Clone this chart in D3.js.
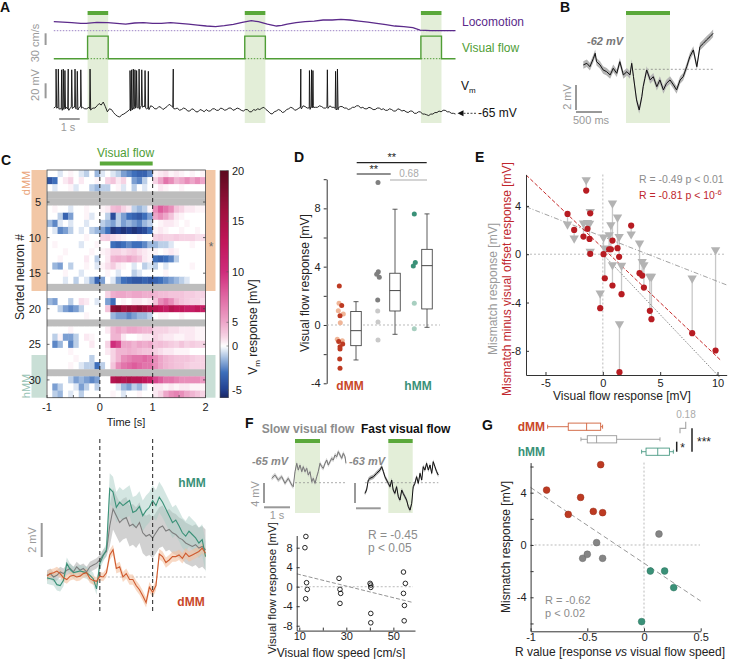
<!DOCTYPE html>
<html><head><meta charset="utf-8">
<script src="https://cdn.jsdelivr.net/npm/d3@7"></script>
<style>body{margin:0;background:#fff}svg{display:block}text{font-family:"Liberation Sans",Arial,sans-serif}</style>
</head><body><script>
// ---------------- DATA ----------------
// Panel A
const locoTime = [0,0.44,0.87,1.31,1.57,2.09,2.62,3.06,3.49,3.92,4.36,4.79,5.23,5.67,6.10,6.54,6.98,7.41,7.85,8.28,8.72,9.15,9.59,9.93,10.37,10.81,11.07,11.33,11.76,12.2,12.64,13.07,13.51,13.94,14.38,14.81,15.25,15.68,16.12,16.56,16.99,17.43,17.78,18.3,19.5];
const locoSpeed = [23.1,22.2,20.5,18.8,18.8,21.4,20.5,18.8,17.1,19.7,20.5,18.8,18.8,20.5,18.8,17.1,14.5,12,10.3,12.8,16.2,21.4,25.7,23.1,17.1,12,13.7,17.1,20.5,23.1,24.8,27.4,27.4,29.1,27.4,24.8,22.2,18.8,15.4,12,10.3,7.7,1.7,0,0];
const flowOnsets = [1.64, 9.27, 17.82];
const flowDuration = 1.0;
const flowSpeed = 58;
const vmStep = 0.1;
const vmBase = [-58,-56,-57,-59,-59,-57,-57,-59,-58,-56,
  -56,-59,-58,-56,-57,-59,-59,-57,-60,-58,
  -58,-55,-52,-54,-50,-56,-63,-59,-60,-64,
  -67,-69,-70,-67,-66,-64,-62,-60,-58,-57,
  -55,-58,-57,-54,-55,-59,-58,-55,-56,-59,
  -59,-56,-57,-60,-58,-56,-53,-55,-57,-59,
  -58,-61,-60,-58,-59,-62,-62,-59,-60,-63,
  -63,-60,-61,-63,-60,-62,-62,-59,-59,-61,
  -61,-58,-59,-61,-60,-58,-58,-61,-60,-58,
  -59,-61,-62,-60,-60,-63,-63,-60,-61,-59,
  -60,-58,-57,-60,-62,-65,-66,-63,-62,-60,
  -61,-64,-63,-60,-59,-57,-58,-61,-60,-58,
  -57,-55,-56,-58,-58,-56,-55,-57,-57,-55,
  -56,-58,-58,-56,-55,-57,-57,-59,-58,-56,
  -56,-58,-58,-60,-59,-57,-57,-55,-55,-58,
  -57,-59,-59,-57,-58,-60,-60,-58,-58,-60,
  -59,-61,-61,-59,-60,-62,-62,-59,-60,-62,
  -61,-63,-64,-62,-62,-65,-65,-63,-63,-66,
  -66,-67,-68,-66,-66,-64,-64,-62,-63,-61,
  -61,-63,-63,-65,-65,-66];
const spikeTimes = [0.11,0.22,0.38,0.46,0.54,0.70,0.87,1.03,1.14,1.31,1.76,
  3.70,3.78,3.86,3.94,4.02,4.14,4.27,4.43,4.59,5.80,
  11.99,12.41,12.51,12.58,13.28,13.68,13.77];
const spikePeaks = [-6,-6,-7,-6,-8,-6,-7,-6,-9,-7,-6,
  -8,-7,-6,-7,-8,-6,-7,-8,-9,-6,
  -6,-8,-7,-8,-7,-9,-6];
// Panel B
const bTime = [-0.97,-0.89,-0.82,-0.74,-0.70,-0.67,-0.59,-0.52,-0.44,-0.36,-0.29,-0.21,-0.14,-0.06,0.02,0.09,0.13,0.17,0.24,0.30,0.36,0.39,0.43,0.47,0.55,0.62,0.70,0.77,0.85,0.92,1.0,1.08,1.15,1.23,1.30,1.38,1.45,1.53,1.61,1.68,1.76,1.83,1.91,1.98];
const bVm = [0.35,0.48,0.21,0.88,1.28,0.61,0.35,-0.05,-0.19,-0.45,0.08,-0.32,0.61,-0.45,-0.19,-0.45,0.48,-0.59,-2.45,-3.25,-2.19,-1.39,-0.72,-0.05,-0.85,-0.59,-1.39,-0.85,-1.65,-1.12,-0.85,-1.25,-1.65,-0.85,-0.59,0.21,1.01,1.55,0.21,1.81,2.08,2.35,2.61,2.88];
const bSem = 0.3;
// Panel C heatmap (rows 1..32, 0.1 s bins from -1 to 2 s, null = no data)
const heatT0 = -1, heatBin = 0.1;
const heatRows = [
 [0,0,-0.5,0,0.5,0,-0.5,-1,0,-1.5,-0.5,0,-0.5,-1,-2,-2.5,-3,-3.5,-3.5,-2.5,0.5,1,1.5,0.5,1,0.5,0,0.5,0,0.5],
 [-4,-3,0,1,2,0,1,0,0,0.5,0,2,3,1,2,0,-2,-2.5,-1,0,2,5,7,6,4,5,6,5,6,5],
 [0,-0.5,0,0,0.5,-0.5,0,0,-1,-1.5,-1,-1,0,0.5,-0.5,0,-1,0,-0.5,0,0,1,0.5,0,0,0.5,0,0,0,0],
 null, null,
 [0,0.5,0,0,-0.5,0,0,0.5,0,0,0.5,1,3.5,4,2,1,-1,-1.5,-1,0.5,6,8,7,6,3,2,1,1,0.5,0.5],
 [0,0,-1,-3.5,-2,0,0,0.5,-0.5,0,0,-1,-4.5,-1,-2,-3,-3.5,-4,-3,-2,5,6,5,3,1,0.5,0,0,0,0],
 [-1.5,-2.5,-0.5,0,-0.5,0,0,-0.5,0,0,-1,-1.5,-2,-1,-2,-1.5,-2,-2.5,-1.5,-1,0,0.5,1,1,0.5,0,0.5,0,0,0],
 [0,-0.5,-2.5,-2,-1,0,-0.5,0,-1,-1.5,-2,-3,-5.5,-5,-5.5,-5,-5.5,-5,-4.5,-3,0.5,1,0.5,0,0,0.5,0,0,0.5,0],
 [0,0,0,0,0,0,0,0.5,0,0,2,2.5,1.5,1,0.5,0,0,0.5,0,0,2,2.5,2,2,2.5,2,2,2,1.5,1.5],
 [0,0.5,0,0,0,0,-0.5,0,0,0.5,0,0,-3,-3.5,-3,-2.5,-3,-3,-2.5,-1.5,-1.5,-1,-1,-0.5,0,0,0,0.5,0,0],
 [0,0,0,0.5,0,0,0,0,0.5,0,0.5,1,2,2,1.5,2,2.5,1.5,1,0.5,0.5,0,0.5,1,0.5,0,0,0,0,0],
 [0,0,0.5,0,0,0,0,1,0,-1,0,1,4,4.5,4,5,4,3,1,0.5,-3,-3.5,-3,-2.5,-1,0,0,0,0,0],
 [0,-1.5,-2,0,-1,0,0,0.5,0,-0.5,0.5,1.5,2.5,1,0.5,0,-0.5,0,-1,-0.5,-1,0,-0.5,0,0,0,0,0.5,0,0],
 [0,0,0,0.5,0,0,-0.5,0,0,0,0,0.5,0,-0.5,0,0,-1,-0.5,0,0,0,0,0.5,0,0,0,0,0,0,0],
 [0,0,0,-0.5,0,-1,0,-0.5,-1.5,-3.5,-2,0,-0.5,-2,-3,-3.5,-4,-4,-3.5,-4,-3.5,-3,-2.5,-2,-1.5,-1,-0.5,0,0,0],
 null,
 [0,0,0,0,0,0,0,0,0,0,0,2,4.5,5,5,4.5,5,5,4.5,4.5,4,3.5,3.5,3,3,3,2.5,2.5,2,2],
 [-1.5,-2,0,0,-1,0,1.5,1,0,-0.5,0,-2,-3,0,0.5,0,1,1,0.5,1,3,6,7,6,4,3,2.5,2,2,1.5],
 [0,0,-1,-2,-2.5,-2,-1,0,0,0,0,3,17,18,16,17,16,17,16,15,14,13,12,14,13,13,12,12,13,12],
 [0,0,0,0,0,0,0,0.5,0,0,0,0,-1.5,-2,-2,-2.5,-2,-1.5,-1.5,-1,0,0.5,0.5,0,0,0.5,0,0,0,0],
 null,
 [0,0,0,0,0.5,0,0,0,0,0,0,1,4,5,4,5,5,4.5,4,4,2,2,2,1.5,1.5,1,1,1,0.5,0.5],
 [0,-1,0.5,-2,-2,-1,0,1,0.5,0,0,0,4,4,1,0,0,0.5,1,1,2,1.5,1,1,0.5,0.5,1,1,0.5,0.5],
 [0,-2.5,-1.5,0,-2.5,-1,0,0,1,0,0,2,10,9,5,5,4,5,4.5,5,3,3.5,3,2.5,2,3,2,2.5,2,2],
 [0,0,0,0,0.5,0,0,0,0,0,0,1,2,4,4,4.5,4,3.5,3,3,2,1.5,1,1,0.5,0.5,0.5,0,0,0],
 [0,0,0,0,0,0.5,0,0,-1,0,0,0,2,4,6,6.5,7,7,7.5,7,6,5,4,3.5,3,3,3,2.5,2,2],
 [0,0,0,0,0.5,0,-0.5,-1,-1,-3,-1,0,3,6,7,7.5,8,7.5,7,7,6,5,4,3.5,3,3,2.5,2,2,2],
 null,
 [0,0,0,0,-1,-2,-1.5,-2,-2.5,-2,0,0,14,15,14,15,14,14,13,12,9,8,7,7,6.5,6,6,6,6,5.5],
 [0,-2,-1,0,0,-0.5,-2,-1,0,-1,0,0,0,-0.5,-1.5,-2,-1,-1.5,-0.5,0,1,1,0.5,1,0.5,1,1,0.5,0.5,0.5],
 [0,-1,-1.5,0,-0.5,0,-1,0,0,0,0,0,0.5,0,-0.5,0,0,0.5,0,0,1,2,5,6,6.5,6,5,4,3,2]
];
const dmmRows = [1, 17], hmmRows = [27, 32];
const colorbarTicks = [-5, 0, 5, 10, 15, 20];
// Panel C average traces (step 0.0625 s from -1 s)
const traceT0 = -1, traceStep = 0.0625;
const hmmTrace = [-0.05,-0.1,-0.15,-0.45,-0.5,-0.2,0.8,0.45,0.25,0.3,0.35,0.3,0.25,0.1,-0.1,-0.7,0.8,1.25,1.6,5.2,5.0,4.1,4.4,4.2,4.35,4.5,3.8,3.9,4.15,3.6,3.9,4.1,4.5,4.2,4.7,4.4,4.0,3.6,3.2,3.35,3.0,2.6,2.4,2.7,2.5,2.3,2.0,2.2,1.2];
const grayTrace = [0.1,0.2,0.0,0.1,0.3,0.2,0.4,0.5,0.3,0.6,0.4,0.5,0.3,0.6,0.7,0.8,1.0,1.3,1.5,3.0,4.0,3.6,3.2,3.4,3.5,3.0,3.1,2.9,3.2,2.6,2.4,2.5,2.3,2.6,2.9,3.0,2.7,2.8,2.6,2.5,2.3,2.2,2.0,1.9,1.8,1.9,1.7,1.8,1.6];
const dmmTrace = [0.05,0.2,0.25,0.35,0.2,-0.05,-0.15,0.05,0.1,0.0,0.05,0.2,0.25,-0.1,-0.2,-0.25,0.05,0.0,0.25,1.3,1.6,0.5,0.6,0.0,0.2,-0.15,-0.15,-0.5,-0.75,-1.1,-1.5,-0.6,-0.9,-0.5,1.35,1.2,0.85,1.0,1.2,1.2,1.3,1.1,1.4,1.2,1.3,1.4,1.5,1.7,1.4];
const semPre = {hmm:0.35, gray:0.3, dmm:0.25};
const semPost = {hmm:0.9, gray:1.2, dmm:0.3};
// Panel D
const dmmDark = [2.68,1.33,0.64,-1.14,-1.30,-1.49,-1.65,-2.33,-2.97];
const dmmLight = [1.49,0.98,0.76,0.16,-0.98,-1.08];
const grayDark = [9.77,3.66,3.48,3.27,1.72];
const grayLight = [0.96,0.21,-1.03];
const hmmDark = [7.62,4.28,4.05];
const hmmLight = [1.49,-0.25];
const jitDmmDark = [-0.7,1.7,0,-1.3,2.7,0,0,-0.3,0];
const jitDmmLight = [-1,-1.7,3.3,0.3,-2.7,2.3];
const jitGrayDark = [0,0.3,-1.3,1.3,-0.3];
const jitGrayLight = [-0.3,0,0];
const jitHmmDark = [-0.7,0.3,-1.7];
const jitHmmLight = [-0.7,-0.7];
const boxD = [[-2.4,-1.42,-0.39,0.92,1.6],[-0.64,0.96,2.36,3.55,7.94],[-0.16,1.1,4.07,5.19,7.62]];
// Panel E
const eX = [-3.08,-2.5,-1.69,-1.45,-1.34,-1.16,-1.1,-1.1,-0.23,0.06,0.17,0.55,0.7,0.84,0.84,1.28,1.42,1.45,1.63,2.47,3.2,3.43,3.58,4.1,4.24,7.79,9.83];
const eRed = [3.34,2.01,1.46,5.27,2.1,1.27,3.39,0.03,-4.47,0,-1.99,0.41,0.41,1.13,-2.59,0.5,-0.22,-9.77,-3.31,2.37,-1.57,-1.77,-2.76,-4.69,-5.38,-6.54,-7.97];
const eGray = [2.48,1.32,2.57,6.15,2.6,2.55,3.53,0.22,-3.23,1.4,0.5,1.6,2.43,4.22,-0.88,3.06,1.46,-5.77,-0.94,1.66,0.91,-0.61,-0.88,-1.85,-1.85,-1.99,0.36];
const eFitGray = [1.45, -0.37], eFitRed = [0.51, -0.904];
// Panel F
const sTime = [-0.93,-0.8,-0.67,-0.53,-0.4,-0.27,-0.13,-0.07,0,0.07,0.13,0.2,0.27,0.33,0.4,0.47,0.53,0.6,0.67,0.73,0.8,0.87,0.93,1.0,1.07,1.13,1.2,1.27,1.33,1.4,1.47,1.53,1.6,1.67,1.73,1.8,1.87,1.93,2.0,2.04];
const sVm = [0.87,1.53,0.53,1.2,-0.13,0.87,-0.47,-0.8,2.2,3.87,2.53,3.53,2.2,3.2,2.2,2.87,1.53,2.2,0.2,0.87,-0.13,1.2,2.2,3.87,3.2,2.87,3.87,4.53,3.53,4.2,4.87,4.53,5.53,5.2,6.2,5.53,4.87,5.87,5.2,3.87];
const fTime = [-0.96,-0.89,-0.82,-0.75,-0.61,-0.48,-0.34,-0.27,-0.2,-0.14,-0.07,0,0.07,0.14,0.2,0.27,0.34,0.41,0.48,0.55,0.61,0.68,0.75,0.82,0.89,0.96,1.02,1.09,1.16,1.23,1.3,1.37,1.43,1.5,1.57,1.64,1.71,1.78,1.84,1.91,1.98,2.05];
const fVm = [-2.13,-1.47,0.53,0.87,1.2,1.87,2.53,3.2,2.2,1.2,0.53,-0.13,-0.8,0.53,-1.47,-2.13,-0.8,-2.8,-3.47,-1.47,-2.13,-2.8,-3.47,-4.8,-5.47,-4.13,-0.8,-0.13,1.2,-0.13,1.87,0.53,3.2,2.53,3.87,2.53,3.53,1.87,4.2,3.2,2.2,1.53];
const fSpeed = [12.8,12.4,13.1,13.4,12.7,26.9,27.3,27.6,27.3,40.1,40.4,40.4,40.4,40.4,54.3,55.1,54.3,54.7,54.6];
const fResp = [10.3,8.0,0.82,-0.55,-2.47,1.71,-0.55,-1.37,-3.42,0.68,0.34,-0.14,-5.48,-7.4,3.01,0.68,-1.37,-3.84,-6.99];
const fFit = [3.7, -0.119];
// Panel G
const gRedX = [-0.859,-0.668,-0.559,-0.447,-0.382,-0.365], gRedY = [4.2,2.34,3.64,2.57,6.14,2.47];
const gGrayX = [-0.541,-0.5,-0.418,-0.365,0.132], gGrayY = [-1.02,-0.71,0.18,-1.02,0.84];
const gTealX = [0.056,0.182,0.262,-0.021], gTealY = [-1.99,-1.99,-3.26,-5.86];
const gFit = [-1.39, -5.79];
const boxG = [[-0.85,-0.668,-0.506,-0.382,-0.365],[-0.556,-0.5,-0.418,-0.241,0.141],[-0.021,0.018,0.121,0.224,0.259]];

// ---------------- DRAWING ----------------
const C = {red:"#c9472a", redDot:"#bd3a22", redLight:"#f0b597", teal:"#3a9178", tealLight:"#a8cfc0",
  gray:"#8a8a8a", grayLight:"#c9c9c9", green:"#4f9d35", greenBar:"#5aa83a", shade:"#e3eed8",
  purple:"#5b2a8a", eRed:"#b71c22"};
const svg = d3.select("body").append("svg").attr("width",729).attr("height",659);
function txt(g,x,y,s,o={}){const t=g.append("text").attr("x",x).attr("y",y).attr("font-size",o.size||11)
  .attr("fill",o.fill||"#222").attr("text-anchor",o.anchor||"start").text(s);
  if(o.weight)t.attr("font-weight",o.weight); if(o.style)t.attr("font-style",o.style); return t;}
function vtxt(g,x,y,s,o={}){const t=g.append("text").attr("transform",`translate(${x},${y}) rotate(-90)`)
  .attr("text-anchor","middle").attr("font-size",o.size||11).attr("fill",o.fill||"#222").text(s);
  if(o.weight)t.attr("font-weight",o.weight); return t;}
function ln(g,x1,y1,x2,y2,st,w,dash){const l=g.append("line").attr("x1",x1).attr("y1",y1).attr("x2",x2).attr("y2",y2)
  .attr("stroke",st).attr("stroke-width",w||1); if(dash)l.attr("stroke-dasharray",dash); return l;}
function letter(x,y,s){txt(svg,x,y,s,{size:14,weight:"bold",fill:"#111"});}
function styleAxis(g){g.attr("font-size",11).attr("font-family",'"Liberation Sans",Arial,sans-serif');
  g.selectAll("path,line").attr("stroke","#333"); g.selectAll("text").attr("fill","#222");}

// ===== Panel A =====
letter(0,12,"A");
const gA = svg.append("g");
const xA = d3.scaleLinear().domain([0,19.5]).range([53.8,455.5]);
const yLoco = d3.scaleLinear().domain([0,30]).range([30.7,19.0]);
const yFlow = d3.scaleLinear().domain([0,30]).range([58.7,47.0]);
const yVm = d3.scaleLinear().domain([-65,-45]).range([113.3,98.3]);
flowOnsets.forEach(on=>{
  gA.append("rect").attr("x",xA(on)).attr("y",15).attr("width",xA(on+flowDuration)-xA(on)).attr("height",108).attr("fill",C.shade);
  gA.append("rect").attr("x",xA(on)).attr("y",11).attr("width",xA(on+flowDuration)-xA(on)).attr("height",4).attr("fill",C.greenBar);
  ln(gA,xA(on),yFlow(0),xA(on+flowDuration),yFlow(0),C.green,1,"1.5,1.5");
});
ln(gA,xA(0),yLoco(0),xA(19.5),yLoco(0),"#9d84c6",1,"1.5,1.5");
gA.append("path").datum(locoTime.map((t,i)=>[t,locoSpeed[i]]))
  .attr("d",d3.line().x(d=>xA(d[0])).y(d=>yLoco(d[1]))).attr("fill","none").attr("stroke",C.purple).attr("stroke-width",1.3);
const flowPts=[[0,0]]; flowOnsets.forEach(on=>{flowPts.push([on,0],[on,flowSpeed],[on+flowDuration,flowSpeed],[on+flowDuration,0]);}); flowPts.push([19.5,0]);
gA.append("path").datum(flowPts).attr("d",d3.line().x(d=>xA(d[0])).y(d=>yFlow(d[1])))
  .attr("fill","none").attr("stroke",C.green).attr("stroke-width",1.4);
const vmPts = vmBase.map((v,i)=>[i*vmStep,v]);
const vmInterp = t=>{const i=Math.min(Math.floor(t/vmStep),vmBase.length-2); const f=t/vmStep-i; return vmBase[i]*(1-f)+vmBase[i+1]*f;};
spikeTimes.forEach((t,k)=>{const b=vmInterp(t); vmPts.push([t-0.02,b],[t,spikePeaks[k]],[t+0.03,b-2]);});
vmPts.sort((a,b)=>a[0]-b[0]);
gA.append("path").datum(vmPts).attr("d",d3.line().x(d=>xA(d[0])).y(d=>yVm(d[1])))
  .attr("fill","none").attr("stroke","#111").attr("stroke-width",0.9);
txt(gA,462,26,"Locomotion",{size:12,fill:C.purple});
txt(gA,462,52,"Visual flow",{size:12,fill:C.green});
const vmL=txt(gA,461,90,"V",{size:12,fill:"#111"}); vmL.append("tspan").attr("dy",3).attr("font-size",8).text("m");
gA.append("path").attr("d",`M${xA(19.5)+2},${yVm(-65)} l6,-3 l0,6 z`).attr("fill","#111");
ln(gA,xA(19.5)+8,yVm(-65),476,yVm(-65),"#111",0.8,"2,1.5");
txt(gA,478,117,"-65 mV",{size:12,fill:"#111"});
ln(gA,45.6,33.3,45.6,45,"#999",2);
vtxt(gA,39,43,"30 cm/s",{size:11,fill:"#999"});
ln(gA,45.6,83.3,45.6,98.3,"#999",2);
vtxt(gA,39,85,"20 mV",{size:11,fill:"#999"});
ln(gA,xA(0.26),119,xA(1.26),119,"#999",2);
txt(gA,68,131,"1 s",{size:11,fill:"#999",anchor:"middle"});

// ===== Panel B =====
letter(560,12,"B");
const gB = svg.append("g");
const xB = d3.scaleLinear().domain([-1,2]).range([582,714]);
const yB = d3.scaleLinear().domain([0,2]).range([69.3,44.3]);
gB.append("rect").attr("x",xB(0)).attr("y",15).attr("width",xB(1)-xB(0)).attr("height",108).attr("fill",C.shade);
gB.append("rect").attr("x",xB(0)).attr("y",11).attr("width",xB(1)-xB(0)).attr("height",4).attr("fill",C.greenBar);
ln(gB,xB(0.2),yB(0),xB(2),yB(0),"#777",0.7,"2,2");
gB.append("path").datum(bTime.map((t,i)=>[t,bVm[i]]))
  .attr("d",d3.area().x(d=>xB(d[0])).y0(d=>yB(d[1]-bSem)).y1(d=>yB(d[1]+bSem))).attr("fill","#b5b5b5");
gB.append("path").datum(bTime.map((t,i)=>[t,bVm[i]]))
  .attr("d",d3.line().x(d=>xB(d[0])).y(d=>yB(d[1]))).attr("fill","none").attr("stroke","#111").attr("stroke-width",1);
txt(gB,587,45,"-62 mV",{size:11,fill:"#777",weight:"bold",style:"italic"});
ln(gB,576,85,576,110,"#999",2);
vtxt(gB,571,97,"2 mV",{size:11,fill:"#999"});
ln(gB,576,112,602,112,"#999",2);
txt(gB,573,124,"500 ms",{size:11,fill:"#999"});

// ===== Panel C heatmap =====
letter(1,165,"C");
const gC = svg.append("g");
const xC = d3.scaleLinear().domain([-1,2]).range([47,205.5]);
const yC = d3.scaleBand().domain(d3.range(1,heatRows.length+1)).range([170,397.7]);
const colStops = [-6,-5,-3,-1.5,0,2,5,8,10,13,16,20];
const colCols = ["#1c2864","#23408f","#3e6fbb","#9bb7dd","#ffffff","#f6d3e4","#eda6c9","#dd5d9c","#cf2d7c","#c0175a","#a0123f","#5c0b1f"];
const color = d3.scaleLinear().domain(colStops).range(colCols).clamp(true);
const bandDmm = [yC(dmmRows[0]), yC(dmmRows[1])+yC.bandwidth()];
const bandHmm = [yC(hmmRows[0]), yC(hmmRows[1])+yC.bandwidth()];
[[bandDmm,"#f2c7a6"],[bandHmm,"#c9dfd6"]].forEach(([b,c])=>{
  gC.append("rect").attr("x",31.5).attr("y",b[0]).attr("width",15).attr("height",b[1]-b[0]).attr("fill",c);
  gC.append("rect").attr("x",205.5).attr("y",b[0]).attr("width",10).attr("height",b[1]-b[0]).attr("fill",c);
});
heatRows.forEach((row,ri)=>{
  const y=yC(ri+1), h=yC.bandwidth()+0.3;
  if(row===null){gC.append("rect").attr("x",xC(-1)).attr("y",y).attr("width",xC(2)-xC(-1)).attr("height",h).attr("fill","#bdbdbd");return;}
  row.forEach((v,ci)=>{const t0=heatT0+ci*heatBin;
    gC.append("rect").attr("x",xC(t0)).attr("y",y).attr("width",xC(t0+heatBin)-xC(t0)+0.4).attr("height",h).attr("fill",color(v));});
});
gC.append("rect").attr("x",xC(-1)).attr("y",170).attr("width",xC(2)-xC(-1)).attr("height",227.7).attr("fill","none").attr("stroke","#444").attr("stroke-width",0.8);
[0,1].forEach(t=>ln(gC,xC(t),170,xC(t),397.7,"#222",1,"4,3"));
[5,10,15,20,25,30].forEach(r=>{const y=yC(r)+yC.bandwidth()/2;
  txt(gC,41,y+4,String(r),{size:11,anchor:"end"}); ln(gC,xC(-1),y,xC(-1)+2.5,y,"#444",0.8); ln(gC,xC(2),y,xC(2)-2.5,y,"#444",0.8);});
[-1,-0.5,0,0.5,1,1.5,2].forEach(t=>ln(gC,xC(t),397.7,xC(t),395,"#444",0.8));
[-1,0,1,2].forEach(t=>txt(gC,xC(t),411,String(t),{size:11,anchor:"middle"}));
txt(gC,126,426,"Time [s]",{size:11,anchor:"middle"});
vtxt(gC,24,277,"Sorted neuron #",{size:12});
vtxt(gC,30,183,"dMM",{size:11,fill:"#eaa57a"});
vtxt(gC,30,386,"hMM",{size:11,fill:"#99c3b5"});
txt(gC,211,251,"*",{size:12,fill:"#666",anchor:"middle"});
txt(gC,125.5,157,"Visual flow",{size:12,fill:C.green,anchor:"middle"});
gC.append("rect").attr("x",xC(0)).attr("y",161.5).attr("width",xC(1)-xC(0)).attr("height",4).attr("fill",C.greenBar);
const cbY = d3.scaleLinear().domain([-6,-5,0,5,20]).range([397.7,390,346,322.3,170.7]);
for(let y=170.7;y<397.7;y+=1){gC.append("rect").attr("x",220).attr("y",y).attr("width",8.5).attr("height",1.3).attr("fill",color(cbY.invert(y+0.5)));}
gC.append("rect").attr("x",220).attr("y",170.7).attr("width",8.5).attr("height",227).attr("fill","none").attr("stroke","#555").attr("stroke-width",0.6);
colorbarTicks.forEach(v=>{txt(gC,232,cbY(v)+4,String(v),{size:11}); ln(gC,228.5,cbY(v),226.5,cbY(v),"#555",0.6);});
const cbl=gC.append("text").attr("transform","translate(257,327) rotate(-90)").attr("text-anchor","middle").attr("font-size",12).attr("fill","#222");
cbl.append("tspan").text("V"); cbl.append("tspan").attr("dy",3).attr("font-size",8).text("m"); cbl.append("tspan").attr("dy",-3).text(" response [mV]");

// ===== Panel C traces =====
const yCt = d3.scaleLinear().domain([0,2]).range([577,543]);
const tr = arr=>arr.map((v,i)=>[traceT0+i*traceStep,v]);
ln(gC,xC(0),577,xC(2),577,"#aaa",0.8,"2,2");
[["gray",grayTrace,"#9a9a9a",0.45],["hmm",hmmTrace,"#a9cdc6",0.5],["dmm",dmmTrace,"#f3c09f",0.6]].forEach(([k,arr,bc,op])=>{
  const s=p=>(p[0]<0.15?semPre[k]:semPost[k]);
  gC.append("path").datum(tr(arr)).attr("d",d3.area().x(p=>xC(p[0])).y0(p=>yCt(p[1]-s(p))).y1(p=>yCt(p[1]+s(p))))
    .attr("fill",bc).attr("opacity",op);
});
[[grayTrace,"#7d7d7d"],[hmmTrace,"#3a9178"],[dmmTrace,"#cf5a2e"]].forEach(([arr,lc])=>{
  gC.append("path").datum(tr(arr)).attr("d",d3.line().x(p=>xC(p[0])).y(p=>yCt(p[1]))).attr("fill","none").attr("stroke",lc).attr("stroke-width",1.1);
});
[0,1].forEach(t=>ln(gC,xC(t),439,xC(t),612,"#222",1,"4,3"));
ln(gC,41.7,523,41.7,557,"#999",2);
vtxt(gC,36,540,"2 mV",{size:11,fill:"#999"});
txt(gC,192,487,"hMM",{size:12,weight:"bold",fill:C.teal,anchor:"middle"});
txt(gC,191,606,"dMM",{size:12,weight:"bold",fill:C.red,anchor:"middle"});

// ===== Panel D =====
letter(294,162,"D");
const gD = svg.append("g");
const yD = d3.scaleLinear().domain([-4,10]).range([383.3,179.2]);
const axD = gD.append("g").attr("transform","translate(326.7,0)")
  .call(d3.axisLeft(yD).tickValues([-4,-2,0,2,4,6,8,10]).tickFormat(d=>[-4,0,4,8].includes(d)?String(d):"").tickSize(3).tickSizeOuter(0));
styleAxis(axD);
ln(gD,327,yD(0),440,yD(0),"#aaa",0.8,"2,2");
vtxt(gD,309,283,"Visual flow response [mV]",{size:12});
const dotsD=(vals,jit,cx,col)=>vals.forEach((v,i)=>gD.append("circle").attr("cx",cx+jit[i]).attr("cy",yD(v)).attr("r",2.5).attr("fill",col));
dotsD(dmmLight,jitDmmLight,340,C.redLight); dotsD(dmmDark,jitDmmDark,340,C.redDot);
dotsD(grayLight,jitGrayLight,378,C.grayLight); dotsD(grayDark,jitGrayDark,378,"#7f7f7f");
dotsD(hmmLight,jitHmmLight,415,C.tealLight); dotsD(hmmDark,jitHmmDark,415,C.teal);
const boxPlotV=(g,s,cx,w,y)=>{ln(g,cx,y(s[0]),cx,y(s[1]),"#333",0.8); ln(g,cx,y(s[3]),cx,y(s[4]),"#333",0.8);
  ln(g,cx-2.5,y(s[0]),cx+2.5,y(s[0]),"#333",0.8); ln(g,cx-2.5,y(s[4]),cx+2.5,y(s[4]),"#333",0.8);
  g.append("rect").attr("x",cx-w/2).attr("y",y(s[3])).attr("width",w).attr("height",y(s[1])-y(s[3])).attr("fill","#fff").attr("stroke","#333").attr("stroke-width",0.8);
  ln(g,cx-w/2,y(s[2]),cx+w/2,y(s[2]),"#333",0.9);};
[356,395,427].forEach((cx,i)=>boxPlotV(gD,boxD[i],cx,10.5,yD));
txt(gD,350,390,"dMM",{size:12,weight:"bold",fill:C.red,anchor:"middle"});
txt(gD,418,390,"hMM",{size:12,weight:"bold",fill:C.teal,anchor:"middle"});
ln(gD,356.7,162.7,426.7,162.7,"#222",1.2); txt(gD,391.7,161,"**",{size:11,anchor:"middle"});
ln(gD,356.7,174,390.7,174,"#222",1.2); txt(gD,373.7,172.5,"**",{size:11,anchor:"middle"});
ln(gD,390,180,427,180,"#aaa",1.2); txt(gD,409,177,"0.68",{size:10,fill:"#aaa",anchor:"middle"});

// ===== Panel E =====
letter(475,162,"E");
const gE = svg.append("g");
const xE = d3.scaleLinear().domain([-6.7,10.8]).range([526,726.7]);
const yE = d3.scaleLinear().domain([-10,6.6]).range([375,174.5]);
ln(gE,xE(0),174.5,xE(0),375,"#aaa",0.8,"2,2");
ln(gE,526,yE(0),726,yE(0),"#aaa",0.8,"2,2");
eX.forEach((x,i)=>ln(gE,xE(x),yE(eRed[i]),xE(x),yE(eGray[i]),"#c8c8c8",1.3));
const fitLine=(g,xs,xsc,ysc,f,st,w,dash)=>g.append("path").datum(xs).attr("d",d3.line().x(x=>xsc(x)).y(x=>ysc(f[0]+f[1]*x)))
  .attr("fill","none").attr("stroke",st).attr("stroke-width",w).attr("stroke-dasharray",dash);
fitLine(gE,[-6.7,10.8],xE,yE,eFitGray,"#999",0.9,"5,2,1,2");
fitLine(gE,[0,10.2],xE,yE,[0,-1],"#777",0.9,"1.5,1.5");
fitLine(gE,[-6.7,10.3],xE,yE,eFitRed,"#c62a2a",1,"4,2");
eX.forEach((x,i)=>gE.append("path").attr("d",d3.symbol().type(d3.symbolTriangle).size(38)())
  .attr("transform",`translate(${xE(x)},${yE(eGray[i])}) rotate(180)`).attr("fill","#b3b3b3"));
eX.forEach((x,i)=>gE.append("circle").attr("cx",xE(x)).attr("cy",yE(eRed[i])).attr("r",3.1).attr("fill",C.eRed));
const axEx = gE.append("g").attr("transform","translate(0,375)").call(d3.axisBottom(xE).tickValues([-5,0,5,10]).tickFormat(String).tickSize(-3).tickPadding(4).tickSizeOuter(0));
const axEy = gE.append("g").attr("transform","translate(526,0)").call(d3.axisLeft(yE).tickValues([-8,-4,0,4]).tickFormat(String).tickSize(-3).tickPadding(5).tickSizeOuter(0));
styleAxis(axEx); styleAxis(axEy);
txt(gE,622,400,"Visual flow response [mV]",{size:12,anchor:"middle"});
vtxt(gE,497,289,"Mismatch response [mV]",{size:12,fill:"#9a9a9a"});
vtxt(gE,511,279,"Mismatch minus visual offset response [mV]",{size:12,fill:"#c0262d"});
txt(gE,639,183,"R = -0.49 p < 0.01",{size:10.5,fill:"#8c8c8c"});
const rr=txt(gE,639,199,"R = -0.81 p < 10",{size:10.5,fill:"#c0262d"}); rr.append("tspan").attr("dy",-4).attr("font-size",7.5).text("-6");

// ===== Panel F =====
letter(245,428,"F");
const gF = svg.append("g");
const xFs = d3.scaleLinear().domain([0,1]).range([295,320]);
const xFf = d3.scaleLinear().domain([0,1]).range([388.3,412.7]);
const yFt = d3.scaleLinear().domain([0,4]).range([482.7,462.7]);
[[xFs,sTime,sVm,"#777","#c4c4c4",0],[xFf,fTime,fVm,"#111","#9a9a9a",-0.96]].forEach(([xs,T,V,lc,bc,d0])=>{
  gF.append("rect").attr("x",xs(0)).attr("y",443).attr("width",xs(1)-xs(0)).attr("height",70).attr("fill",C.shade);
  gF.append("rect").attr("x",xs(0)).attr("y",439).attr("width",xs(1)-xs(0)).attr("height",4).attr("fill",C.greenBar);
  ln(gF,xs(d0),482.7,xs(T[T.length-1]),482.7,"#888",0.7,"2,2");
  const d=T.map((t,i)=>[t,V[i]]);
  gF.append("path").datum(d).attr("d",d3.area().x(p=>xs(p[0])).y0(p=>yFt(p[1]-0.45)).y1(p=>yFt(p[1]+0.45))).attr("fill",bc).attr("opacity",0.8);
  gF.append("path").datum(d).attr("d",d3.line().x(p=>xs(p[0])).y(p=>yFt(p[1]))).attr("fill","none").attr("stroke",lc).attr("stroke-width",1);
});
txt(gF,308,433,"Slow visual flow",{size:12,weight:"bold",fill:"#8c8c8c",anchor:"middle"});
txt(gF,405.7,433,"Fast visual flow",{size:12,weight:"bold",fill:"#111",anchor:"middle"});
txt(gF,288,465,"-65 mV",{size:11,weight:"bold",style:"italic",fill:"#888",anchor:"end"});
txt(gF,385,465,"-63 mV",{size:11,weight:"bold",style:"italic",fill:"#888",anchor:"end"});
ln(gF,264,483,264,503,"#999",2); ln(gF,264,507.3,290,507.3,"#999",2);
ln(gF,355,483,355,503,"#999",2); ln(gF,356,508.3,380.7,508.3,"#999",2);
vtxt(gF,259,494,"4 mV",{size:11,fill:"#999"});
txt(gF,277,519,"1 s",{size:11,fill:"#999",anchor:"middle"});
const xF = d3.scaleLinear().domain([8.9,59.2]).range([296.7,415]);
const yF = d3.scaleLinear().domain([-9,10.5]).range([630.6,535.5]);
ln(gF,296.7,yF(0),413,yF(0),"#aaa",0.8,"2,2");
fitLine(gF,[9,58.5],xF,yF,fFit,"#888",0.9,"4,2");
fSpeed.forEach((s,i)=>gF.append("circle").attr("cx",xF(s)).attr("cy",yF(fResp[i])).attr("r",2.3).attr("fill","none").attr("stroke","#111").attr("stroke-width",0.9));
const axFx = gF.append("g").attr("transform","translate(0,630.6)").call(d3.axisBottom(xF).tickValues([10,20,30,40,50]).tickFormat(d=>[10,30,50].includes(d)?String(d):"").tickSize(-3).tickPadding(2).tickSizeOuter(0));
const axFy = gF.append("g").attr("transform","translate(296.7,0)").call(d3.axisLeft(yF).tickValues([-8,-4,0,4,8]).tickFormat(String).tickSize(-3).tickPadding(4).tickSizeOuter(0));
styleAxis(axFx); styleAxis(axFy);
txt(gF,368,539,"R = -0.45",{size:12,fill:"#8c8c8c"});
txt(gF,368,552,"p < 0.05",{size:12,fill:"#8c8c8c"});
vtxt(gF,276,588,"Visual flow response [mV]",{size:11.5});
txt(gF,341,657,"Visual flow speed [cm/s]",{size:12,anchor:"middle"});

// ===== Panel G =====
letter(482,430,"G");
const gG = svg.append("g");
const xG = d3.scaleLinear().domain([-1,0.5]).range([530.6,700.7]);
const yG = d3.scaleLinear().domain([-6.6,6.3]).range([631.3,462.6]);
ln(gG,xG(0),462.6,xG(0),631.3,"#aaa",0.8,"2,2");
ln(gG,530.6,yG(0),700,yG(0),"#aaa",0.8,"2,2");
fitLine(gG,[-1,0.5],xG,yG,gFit,"#999",1,"5,3");
[[gRedX,gRedY,C.redDot],[gGrayX,gGrayY,"#858585"],[gTealX,gTealY,C.teal]].forEach(([X,Y,c])=>
  X.forEach((x,i)=>gG.append("circle").attr("cx",xG(x)).attr("cy",yG(Y[i])).attr("r",3.4).attr("fill",c).attr("stroke",d3.color(c).darker(0.6)).attr("stroke-width",0.5)));
const axGx = gG.append("g").attr("transform","translate(0,631.3)").call(d3.axisBottom(xG).tickValues([-1,-0.5,0,0.5]).tickFormat(String).tickSize(-3).tickPadding(2).tickSizeOuter(0));
const axGy = gG.append("g").attr("transform","translate(530.6,0)").call(d3.axisLeft(yG).tickValues([-6,-4,-2,0,2,4,6]).tickFormat(d=>[-4,0,4].includes(d)?String(d):"").tickSize(-3).tickPadding(4).tickSizeOuter(0));
styleAxis(axGx); styleAxis(axGy);
txt(gG,545,604,"R = -0.62",{size:11,fill:"#8c8c8c"});
txt(gG,545,617,"p < 0.02",{size:11,fill:"#8c8c8c"});
vtxt(gG,510,547,"Mismatch response [mV]",{size:12});
const gxl=gG.append("text").attr("x",620).attr("y",656).attr("text-anchor","middle").attr("font-size",12).attr("fill","#222");
gxl.append("tspan").text("R value [response "); gxl.append("tspan").attr("font-style","italic").text("vs"); gxl.append("tspan").text(" visual flow speed]");
const boxH=(s,cy,c)=>{ln(gG,xG(s[0]),cy,xG(s[1]),cy,c,0.9); ln(gG,xG(s[3]),cy,xG(s[4]),cy,c,0.9);
  ln(gG,xG(s[0]),cy-2,xG(s[0]),cy+2,c,0.9); ln(gG,xG(s[4]),cy-2,xG(s[4]),cy+2,c,0.9);
  gG.append("rect").attr("x",xG(s[1])).attr("y",cy-3.6).attr("width",xG(s[3])-xG(s[1])).attr("height",7.2).attr("fill","#fff").attr("stroke",c).attr("stroke-width",0.9);
  ln(gG,xG(s[2]),cy-3.6,xG(s[2]),cy+3.6,c,0.9);};
boxH(boxG[0],426.7,"#d0603a"); boxH(boxG[1],439.3,"#999"); boxH(boxG[2],451.7,"#4a9a84");
txt(gG,517.7,431,"dMM",{size:12,weight:"bold",fill:C.red});
txt(gG,517.7,456,"hMM",{size:12,weight:"bold",fill:C.teal});
gG.append("path").attr("d","M685.7,421.7 V428.3 H680 V433.3").attr("fill","none").attr("stroke","#aaa").attr("stroke-width",1.2);
txt(gG,686,418,"0.18",{size:10,fill:"#aaa",anchor:"middle"});
ln(gG,676.7,441.7,676.7,451.7,"#222",1.5); txt(gG,682.5,452,"*",{size:12,anchor:"middle"});
ln(gG,692,428.3,692,451.7,"#222",1.5); txt(gG,704,446,"***",{size:12,anchor:"middle"});
</script></body></html>
